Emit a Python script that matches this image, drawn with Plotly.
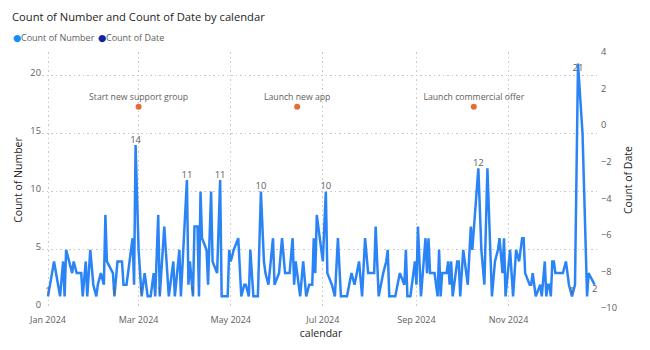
import pandas as pd
import plotly.graph_objects as go

# ---------------- data ----------------
dates = [
    "2024-01-01", "2024-01-05", "2024-01-09", "2024-01-11", "2024-01-12", "2024-01-13",
    "2024-01-17", "2024-01-18", "2024-01-20", "2024-01-23", "2024-01-24", "2024-01-26",
    "2024-01-27", "2024-01-29", "2024-01-31", "2024-02-02", "2024-02-03", "2024-02-05",
    "2024-02-07", "2024-02-08", "2024-02-09", "2024-02-13", "2024-02-14", "2024-02-16",
    "2024-02-19", "2024-02-20", "2024-02-22", "2024-02-23", "2024-02-26", "2024-02-27",
    "2024-02-28", "2024-03-01", "2024-03-03", "2024-03-05", "2024-03-07", "2024-03-09",
    "2024-03-11", "2024-03-12", "2024-03-14", "2024-03-15", "2024-03-18", "2024-03-21",
    "2024-03-24", "2024-03-25", "2024-03-28", "2024-03-29", "2024-04-02", "2024-04-03",
    "2024-04-04", "2024-04-06", "2024-04-07", "2024-04-09", "2024-04-10", "2024-04-11",
    "2024-04-12", "2024-04-15", "2024-04-16", "2024-04-18", "2024-04-19", "2024-04-22",
    "2024-04-24", "2024-04-25", "2024-04-29", "2024-04-30", "2024-05-01", "2024-05-03",
    "2024-05-06", "2024-05-08", "2024-05-10", "2024-05-11", "2024-05-13", "2024-05-14",
    "2024-05-16", "2024-05-19", "2024-05-21", "2024-05-23", "2024-05-24", "2024-05-26",
    "2024-05-29", "2024-05-30", "2024-06-02", "2024-06-04", "2024-06-06", "2024-06-09",
    "2024-06-11", "2024-06-12", "2024-06-13", "2024-06-16", "2024-06-18", "2024-06-20",
    "2024-06-22", "2024-06-24", "2024-06-25", "2024-06-26", "2024-06-27", "2024-06-30",
    "2024-07-01", "2024-07-03", "2024-07-04", "2024-07-07", "2024-07-09", "2024-07-11",
    "2024-07-13", "2024-07-17", "2024-07-20", "2024-07-22", "2024-07-25", "2024-07-27",
    "2024-07-29", "2024-07-31", "2024-08-04", "2024-08-05", "2024-08-07", "2024-08-10",
    "2024-08-12", "2024-08-13", "2024-08-14", "2024-08-18", "2024-08-21", "2024-08-24",
    "2024-08-25", "2024-08-26", "2024-08-28", "2024-08-31", "2024-09-01", "2024-09-02",
    "2024-09-04", "2024-09-07", "2024-09-08", "2024-09-09", "2024-09-10", "2024-09-13",
    "2024-09-15", "2024-09-16", "2024-09-17", "2024-09-18", "2024-09-21", "2024-09-22",
    "2024-09-23", "2024-09-24", "2024-09-25", "2024-09-28", "2024-09-29", "2024-09-30",
    "2024-10-02", "2024-10-05", "2024-10-07", "2024-10-08", "2024-10-12", "2024-10-14",
    "2024-10-16", "2024-10-18", "2024-10-21", "2024-10-23", "2024-10-25", "2024-10-26",
    "2024-10-28", "2024-10-29", "2024-10-30", "2024-11-02", "2024-11-04", "2024-11-06",
    "2024-11-08", "2024-11-10", "2024-11-11", "2024-11-12", "2024-11-15", "2024-11-16",
    "2024-11-17", "2024-11-19", "2024-11-22", "2024-11-23", "2024-11-25", "2024-11-26",
    "2024-11-27", "2024-11-28", "2024-11-29", "2024-11-30", "2024-12-01", "2024-12-02",
    "2024-12-07", "2024-12-09", "2024-12-11", "2024-12-13", "2024-12-15", "2024-12-17",
    "2024-12-20", "2024-12-23", "2024-12-24", "2024-12-28",
]
count_of_number = [
    1, 4, 1, 4, 1, 5,
    3, 4, 3, 3, 1, 4,
    1, 5, 2, 1, 2, 3,
    2, 8, 4, 3, 1, 4,
    4, 2, 2, 3, 6, 2,
    14, 5, 1, 3, 1, 1,
    3, 1, 8, 1, 7, 1,
    4, 1, 5, 1, 11, 2,
    4, 1, 7, 7, 1, 10,
    6, 5, 2, 10, 4, 3,
    11, 1, 1, 5, 4, 5,
    6, 1, 2, 2, 1, 5,
    1, 1, 10, 4, 3, 2,
    6, 2, 3, 6, 3, 3,
    6, 2, 4, 1, 4, 1,
    2, 2, 6, 3, 8, 5,
    4, 10, 3, 2, 1, 6,
    1, 1, 3, 2, 4, 1,
    6, 3, 3, 7, 1, 3,
    4, 5, 1, 1, 3, 2,
    5, 1, 1, 4, 2, 7,
    1, 6, 3, 6, 3, 3,
    1, 5, 1, 3, 3, 4,
    2, 4, 1, 4, 4, 1,
    5, 2, 7, 5, 12, 5,
    2, 12, 1, 4, 5, 6,
    3, 6, 1, 5, 1, 5,
    4, 6, 6, 3, 2, 2,
    3, 1, 2, 1, 4, 1,
    2, 2, 1, 4, 4, 3,
    3, 4, 2, 1, 2, 21,
    15, 1, 3, 2,
]

# data labels shown on the line
peak_label_dates = ["2024-02-28", "2024-04-02", "2024-04-24", "2024-05-21",
                    "2024-07-03", "2024-10-12"]
low_label_dates = ["2024-01-01", "2024-02-14", "2024-03-03", "2024-03-15",
                   "2024-04-06", "2024-12-13"]
inside_label_dates = ["2024-12-17", "2024-12-28"]

# events (plotted on the secondary axis)
event_dates = ["2024-03-01", "2024-06-14", "2024-10-09"]
event_names = ["Start new support group", "Launch new app", "Launch commercial offer"]
event_values = [1, 1, 1]

x_axis_ticks = ["2024-01-01", "2024-03-01", "2024-05-01", "2024-07-01",
                "2024-09-01", "2024-11-01"]
x_axis_ticktext = ["Jan 2024", "Mar 2024", "May 2024", "Jul 2024", "Sep 2024", "Nov 2024"]

legend_names = ["Count of Number", "Count of Date"]

# ---------------- styling ----------------
FONT = "Segoe UI, Open Sans, sans-serif"
LINE_BLUE = "#2A84F5"
LEGEND_COLORS = ["#118DFF", "#12239E"]
ORANGE = "#E66C37"
GREY = "#605E5C"
DARK = "#252423"
GRID = "#C8C8C8"
GRID_DASH = "1.5px,3px"

texts, positions = [], []
for d, v in zip(dates, count_of_number):
    if d in peak_label_dates or d in low_label_dates:
        texts.append(str(v))
        positions.append("top center")
    elif d in inside_label_dates:
        texts.append(str(v))
        positions.append("bottom center")
    else:
        texts.append("")
        positions.append("top center")

fig = go.Figure()
fig.add_trace(go.Scatter(
    x=dates, y=count_of_number, mode="lines+text",
    line=dict(color=LINE_BLUE, width=2.5),
    text=texts, textposition=positions,
    textfont=dict(family=FONT, size=9.5, color=GREY),
    cliponaxis=False, showlegend=False, name="Count of Number",
))
fig.add_trace(go.Scatter(
    x=event_dates, y=event_values, yaxis="y2", mode="markers+text",
    marker=dict(color=ORANGE, size=6),
    text=event_names, textposition="top center",
    textfont=dict(family=FONT, size=8.7, color=GREY),
    showlegend=False, name="Count of Date",
))

# plot area geometry
L, R, T, B = 42, 50, 52, 42
W, H = 650, 350
plot_w = W - L - R
plot_h = H - T - B
px_per_day = 1.51
jan1_px = 48
x_start = pd.Timestamp("2024-01-01") - pd.Timedelta(days=(jan1_px - L) / px_per_day)
x_end = x_start + pd.Timedelta(days=plot_w / px_per_day)

fig.update_layout(
    width=W, height=H,
    margin=dict(l=L, r=R, t=T, b=B, autoexpand=False),
    paper_bgcolor="white", plot_bgcolor="white",
    font=dict(family=FONT, color=GREY),
    title=dict(text="Count of Number and Count of Date by calendar",
               x=12 / W, xanchor="left", xref="container",
               y=1 - 17 / H, yanchor="middle", yref="container",
               font=dict(family=FONT, size=11.2, color=DARK)),
    xaxis=dict(
        range=[x_start, x_end], type="date",
        tickmode="array", tickvals=x_axis_ticks, ticktext=x_axis_ticktext,
        showgrid=True, gridcolor=GRID, griddash=GRID_DASH, gridwidth=1,
        zeroline=False, showline=False, ticks="", ticklabelstandoff=5,
        tickfont=dict(family=FONT, size=9, color=GREY),
        title=dict(text="calendar", standoff=0,
                   font=dict(family=FONT, size=10.5, color=DARK)),
    ),
    yaxis=dict(
        range=[0, 22], dtick=5, tick0=0,
        showgrid=True, gridcolor=GRID, griddash=GRID_DASH, gridwidth=1,
        zeroline=False, showline=False, ticks="", ticklabelshift=-3,
        tickfont=dict(family=FONT, size=9.3, color=GREY),
        title=dict(text="Count of Number", standoff=5,
                   font=dict(family=FONT, size=10.5, color=DARK)),
    ),
    yaxis2=dict(
        range=[-10, 4], dtick=2, tick0=0, overlaying="y", side="right",
        showgrid=False, zeroline=False, showline=False, ticks="",
        tickfont=dict(family=FONT, size=9.3, color=GREY),
        title=dict(text="Count of Date", standoff=8,
                   font=dict(family=FONT, size=10.5, color=DARK)),
    ),
    showlegend=False,
)

# legend row (Power BI style): dot + name
legend_y = (H - B - 37) / plot_h
legend_x_px = [11, 96]
for name, color, xp in zip(legend_names, LEGEND_COLORS, legend_x_px):
    fig.add_annotation(
        xref="paper", yref="paper", x=(xp - L) / plot_w, y=legend_y,
        xanchor="left", yanchor="middle", showarrow=False,
        text="●", font=dict(family="DejaVu Sans", size=9.5, color=color),
    )
    fig.add_annotation(
        xref="paper", yref="paper", x=(xp + 8 - L) / plot_w, y=legend_y,
        xanchor="left", yanchor="middle", showarrow=False,
        text=name, font=dict(family=FONT, size=9, color=GREY),
    )

fig.write_html("out.html")
